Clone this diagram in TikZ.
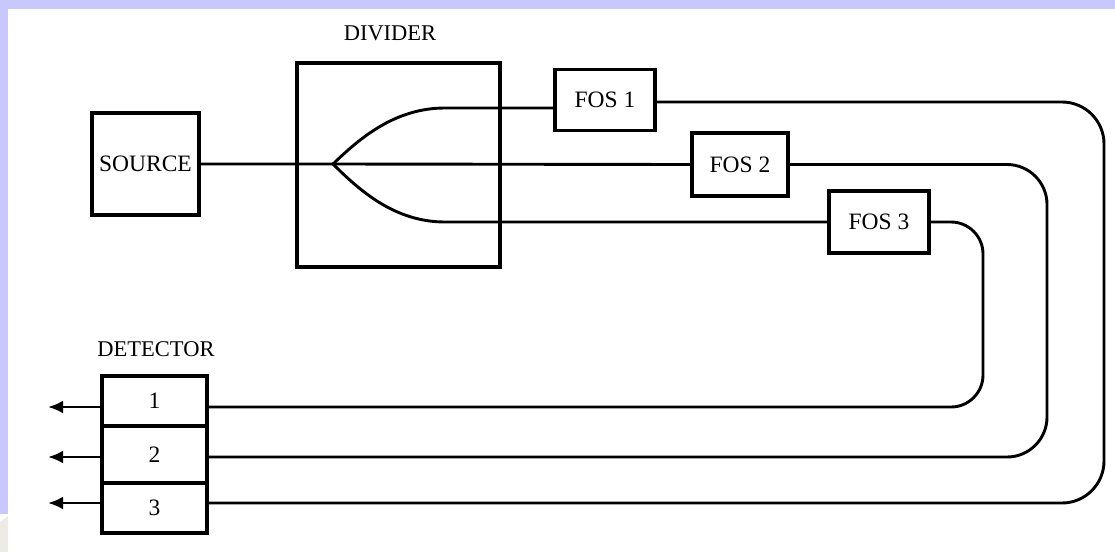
\documentclass[tikz,border=0pt]{standalone}
\usepackage{fontspec}
\setmainfont{Liberation Serif}
\usepackage{xcolor}
\usepackage{tikz}
\usetikzlibrary{positioning, arrows.meta, calc}

\definecolor{lavender}{HTML}{C8C8FF}
\definecolor{cornergray}{HTML}{ECECE4}

\begin{document}
\begin{tikzpicture}[
  x=1pt, y=-1pt,
  box/.style={draw, line width=3.2pt, inner sep=0pt, font=\fontsize{23.5}{27}\selectfont},
  lbl/.style={font=\fontsize{22.5}{26}\selectfont},
  fiber/.style={line width=2.9pt},
  outarr/.style={line width=2.9pt, -{Latex[length=15pt, width=13pt]}}
]
  \useasboundingbox (0,0) rectangle (1115,552);
  \fill[lavender] (0,0) rectangle (1115,9);
  \fill[lavender] (0,0) rectangle (8,514);
  \fill[cornergray] (0,522) -- (8,516) -- (8,552) -- (0,552) -- cycle;

  \node[box, minimum width=107pt, minimum height=102pt] (src) at (145.5,164) {SOURCE};
  \node[box, minimum width=203pt, minimum height=204pt] (div) at (398.5,165) {};
  \node[lbl] (divlbl) at (390,33) {DIVIDER};
  \node[box, minimum width=100pt, minimum height=61pt] (fos1) at (605,100) {FOS 1};
  \node[box, minimum width=96pt, minimum height=63pt] (fos2) at (740,164.5) {FOS 2};
  \node[box, minimum width=100pt, minimum height=62pt] (fos3) at (879,222) {FOS 3};

  \node[lbl] (detlbl) at (156,349) {DETECTOR};
  \node[box, minimum width=105pt, minimum height=50pt] (det1) at (154.5,401) {1};
  \node[box, minimum width=105pt, minimum height=57pt] (det2) at (154.5,454.5) {2};
  \node[box, minimum width=105pt, minimum height=50pt] (det3) at (154.5,508) {3};

  \coordinate (split) at (333,164);
  \coordinate (out1) at (48,407);
  \coordinate (out2) at (48,457);
  \coordinate (out3) at (48,503);

  \draw[fiber] (src.east) -- (split) -- (fos2.west);
  \draw[fiber] (split) .. controls (360,138) and (395,108) .. (445,108) -- ($(fos1.west)+(0,8)$);
  \draw[fiber] (split) .. controls (360,191) and (395,222) .. (445,222) -- (fos3.west);

  \draw[fiber, rounded corners=42pt] ($(fos1.east)+(0,2)$) -- (1104,102) -- (1104,503) -- ($(det3.east)+(0,-5)$);
  \draw[fiber, rounded corners=40pt] (fos2.east) -- (1047,164.5) -- (1047,457) -- ($(det2.east)+(0,2.5)$);
  \draw[fiber, rounded corners=32pt] (fos3.east) -- (983,222) -- (983,407) -- ($(det1.east)+(0,6)$);

  \draw[outarr] ($(det1.west)+(0,6)$) -- (out1);
  \draw[outarr] ($(det2.west)+(0,2.5)$) -- (out2);
  \draw[outarr] ($(det3.west)+(0,-5)$) -- (out3);
\end{tikzpicture}
\end{document}
